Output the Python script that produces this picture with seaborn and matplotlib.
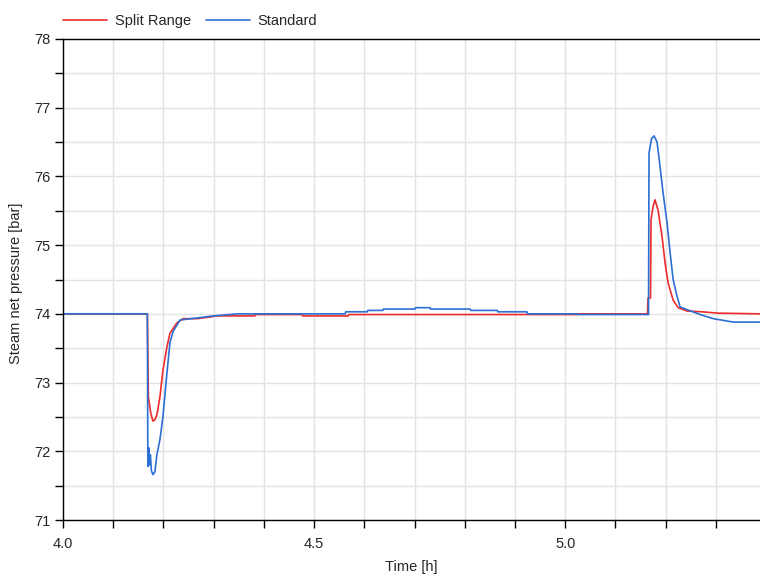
import numpy as np
import pandas as pd
import matplotlib
matplotlib.use("Agg")
import matplotlib.pyplot as plt
from matplotlib.ticker import MultipleLocator, FuncFormatter
import seaborn as sns

# ---- data ----
std_time = [4.000, 4.168, 4.169, 4.171, 4.172, 4.174, 4.176, 4.179, 4.183, 4.187,
            4.193, 4.199, 4.207, 4.213, 4.219, 4.233, 4.267, 4.299, 4.347, 4.562,
            4.563, 4.606, 4.607, 4.637, 4.638, 4.701, 4.702, 4.731, 4.732, 4.811,
            4.812, 4.865, 4.866, 4.924, 4.925, 5.024, 5.025, 5.166, 5.167, 5.172,
            5.177, 5.183, 5.189, 5.195, 5.203, 5.209, 5.215, 5.223, 5.229, 5.243,
            5.269, 5.295, 5.335, 5.390]
std_value = [74.00, 74.00, 71.78, 72.05, 71.80, 71.95, 71.72, 71.66, 71.70, 71.95,
             72.17, 72.50, 73.14, 73.58, 73.74, 73.91, 73.94, 73.97, 74.00, 74.00,
             74.03, 74.03, 74.05, 74.05, 74.07, 74.07, 74.09, 74.09, 74.07, 74.07,
             74.05, 74.05, 74.03, 74.03, 74.00, 74.00, 73.99, 73.99, 76.34, 76.55,
             76.59, 76.50, 76.14, 75.76, 75.32, 74.89, 74.50, 74.25, 74.10, 74.06,
             73.99, 73.93, 73.88, 73.88]

split_time = [4.000, 4.168, 4.170, 4.175, 4.179, 4.183, 4.187, 4.193, 4.199, 4.207,
              4.213, 4.227, 4.239, 4.267, 4.299, 4.300, 4.382, 4.383, 4.476, 4.477,
              4.568, 4.569, 5.024, 5.025, 5.164, 5.165, 5.170, 5.171, 5.175, 5.179,
              5.185, 5.193, 5.199, 5.205, 5.215, 5.225, 5.243, 5.273, 5.305, 5.390]
split_value = [74.00, 74.00, 72.79, 72.55, 72.44, 72.46, 72.53, 72.79, 73.18, 73.52,
               73.72, 73.87, 73.93, 73.93, 73.96, 73.97, 73.97, 73.99, 73.99, 73.97,
               73.97, 73.99, 73.99, 74.00, 74.00, 74.23, 74.23, 75.37, 75.56, 75.66,
               75.51, 75.12, 74.74, 74.45, 74.20, 74.09, 74.04, 74.03, 74.01, 74.00]

series_names = ["Split Range", "Standard"]
series_colors = ["#ee2b2b", "#2b6fd4"]
x_labels = {4.0: "4.0", 4.5: "4.5", 5.0: "5.0"}

df = pd.concat([
    pd.DataFrame({"Time": split_time, "Pressure": split_value, "Series": series_names[0]}),
    pd.DataFrame({"Time": std_time, "Pressure": std_value, "Series": series_names[1]}),
], ignore_index=True)

sns.set_style("white")
plt.rcParams["font.family"] = ["Liberation Sans", "DejaVu Sans"]
FS = 10.5

fig = plt.figure(figsize=(7.6, 5.82), dpi=100)
ax = fig.add_axes([63 / 760, 62 / 582, 697 / 760, 481 / 582])

sns.lineplot(data=df, x="Time", y="Pressure", hue="Series",
             palette=dict(zip(series_names, series_colors)),
             estimator=None, sort=False, linewidth=1.2, ax=ax, legend=False)

ax.set_xlim(4.0, 5.388)
ax.set_ylim(71, 78)

ax.xaxis.set_major_locator(MultipleLocator(0.1))
ax.xaxis.set_major_formatter(FuncFormatter(
    lambda v, p: next((lab for k, lab in x_labels.items() if abs(v - k) < 1e-6), "")))
ax.yaxis.set_major_locator(MultipleLocator(0.5))
ax.yaxis.set_major_formatter(FuncFormatter(
    lambda v, p: f"{int(round(v))}" if abs(v - round(v)) < 1e-6 else ""))

ax.grid(True, color="#e3e3e3", linewidth=1.0)
ax.set_axisbelow(True)
ax.tick_params(axis="both", direction="out", length=6, width=1, color="black",
               labelsize=FS, left=True, bottom=True)
ax.tick_params(axis="x", pad=6)
ax.tick_params(axis="y", pad=3)
for side in ["left", "bottom", "top"]:
    ax.spines[side].set_visible(True)
    ax.spines[side].set_color("black")
    ax.spines[side].set_linewidth(1.0)
ax.spines["right"].set_visible(False)

ax.set_xlabel("Time [h]", fontsize=FS, labelpad=7)
ax.set_ylabel("Steam net pressure [bar]", fontsize=FS)
ax.yaxis.set_label_coords(-0.057, 0.492)

handles = [plt.Line2D([], [], color=c, linewidth=1.2) for c in series_colors]
fig.legend(handles, series_names, loc="upper left", bbox_to_anchor=(0.066, 0.998),
           ncol=2, frameon=False, fontsize=FS, handlelength=3.0, columnspacing=1.0,
           handletextpad=0.55)

fig.savefig("out.png", dpi=100)
